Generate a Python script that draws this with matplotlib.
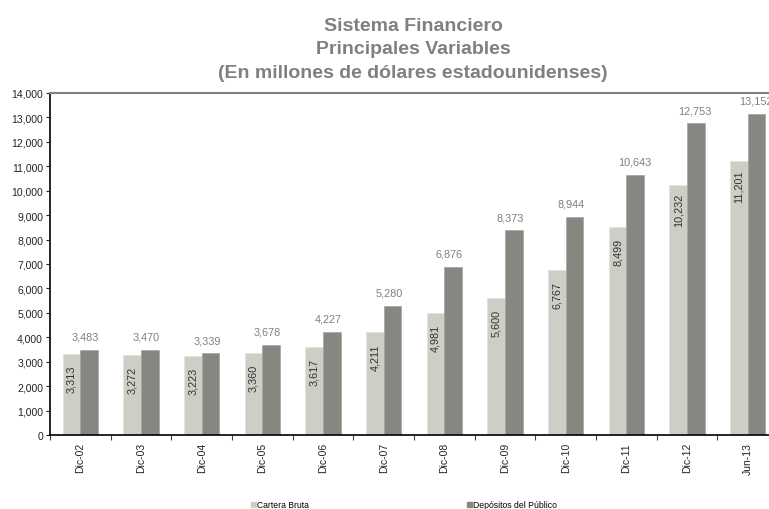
import matplotlib
matplotlib.use("Agg")
import matplotlib.pyplot as plt
import numpy as np
from matplotlib.patches import Rectangle
from matplotlib.ticker import FuncFormatter, FixedLocator

plt.rcParams['font.family'] = ['Liberation Sans', 'DejaVu Sans']

categories = ["Dic-02", "Dic-03", "Dic-04", "Dic-05", "Dic-06", "Dic-07",
              "Dic-08", "Dic-09", "Dic-10", "Dic-11", "Dic-12", "Jun-13"]
cartera = [3313, 3272, 3223, 3360, 3617, 4211, 4981, 5600, 6767, 8499, 10232, 11201]
depositos = [3483, 3470, 3339, 3678, 4227, 5280, 6876, 8373, 8944, 10643, 12753, 13152]
series_names = ["Cartera Bruta", "Depósitos del Público"]
title_lines = ["Sistema Financiero", "Principales Variables",
               "(En millones de dólares estadounidenses)"]

c_light = "#CDCEC5"
c_dark = "#878782"

fig = plt.figure(figsize=(7.69, 5.10), dpi=100)
ax = fig.add_axes([50 / 769, 74 / 510, 728 / 769, 342 / 510])

x = np.arange(len(categories))
w = 0.29
ax.bar(x - w / 2, cartera, width=w, color=c_light, edgecolor="#E2E3DC", linewidth=0.5)
ax.bar(x + w / 2, depositos, width=w, color=c_dark, edgecolor="#A3A39E", linewidth=0.5)

ax.set_xlim(-0.5, len(categories) - 0.5)
ax.set_ylim(0, 14000)
ax.set_yticks(np.arange(0, 14001, 1000))
ax.yaxis.set_major_formatter(FuncFormatter(lambda v, p: f"{int(v):,}"))
ax.tick_params(axis='y', labelsize=7.5, length=3, width=0.8, colors='#222222', pad=2)

ax.set_xticks(x)
ax.set_xticklabels(categories, rotation=90, fontsize=7.5, color='#222222')
ax.tick_params(axis='x', which='major', length=0, pad=5)
ax.xaxis.set_minor_locator(FixedLocator(np.arange(-0.5, len(categories), 1)))
ax.tick_params(axis='x', which='minor', length=3.5, width=0.8, color='#444444')

for s in ['left', 'bottom']:
    ax.spines[s].set_color('black')
    ax.spines[s].set_linewidth(1.2)
ax.spines['top'].set_color('#808080')
ax.spines['top'].set_linewidth(1.5)
ax.spines['right'].set_color('#808080')

for xi, v in zip(x, cartera):
    ax.text(xi - w / 2, v - 1000, f"{v:,}", rotation=90, ha='center', va='center',
            fontsize=7.8, color='#333333')
for xi, v in zip(x, depositos):
    ax.annotate(f"{v:,}", (xi + w / 2, v), xytext=(-12.5, 6), textcoords='offset points',
                ha='left', va='bottom', fontsize=7.8, color='#7F7F7F')

for i, line in enumerate(title_lines):
    fig.text(413 / 769, 1 - (31 + 23.5 * i) / 510, line, ha='center', va='baseline',
             fontsize=14, fontweight='bold', color='#808080')

handles = [Rectangle((0, 0), 1, 1, color=c_light), Rectangle((0, 0), 1, 1, color=c_dark)]
fig.legend(handles, series_names, loc='center left', bbox_to_anchor=(251 / 769, 1 - 506 / 510),
           ncol=2, frameon=False, fontsize=6.2, handlelength=0.6, handleheight=0.6,
           handletextpad=0.15, columnspacing=18.3, borderpad=0, borderaxespad=0)

fig.savefig("out.png", dpi=100)
